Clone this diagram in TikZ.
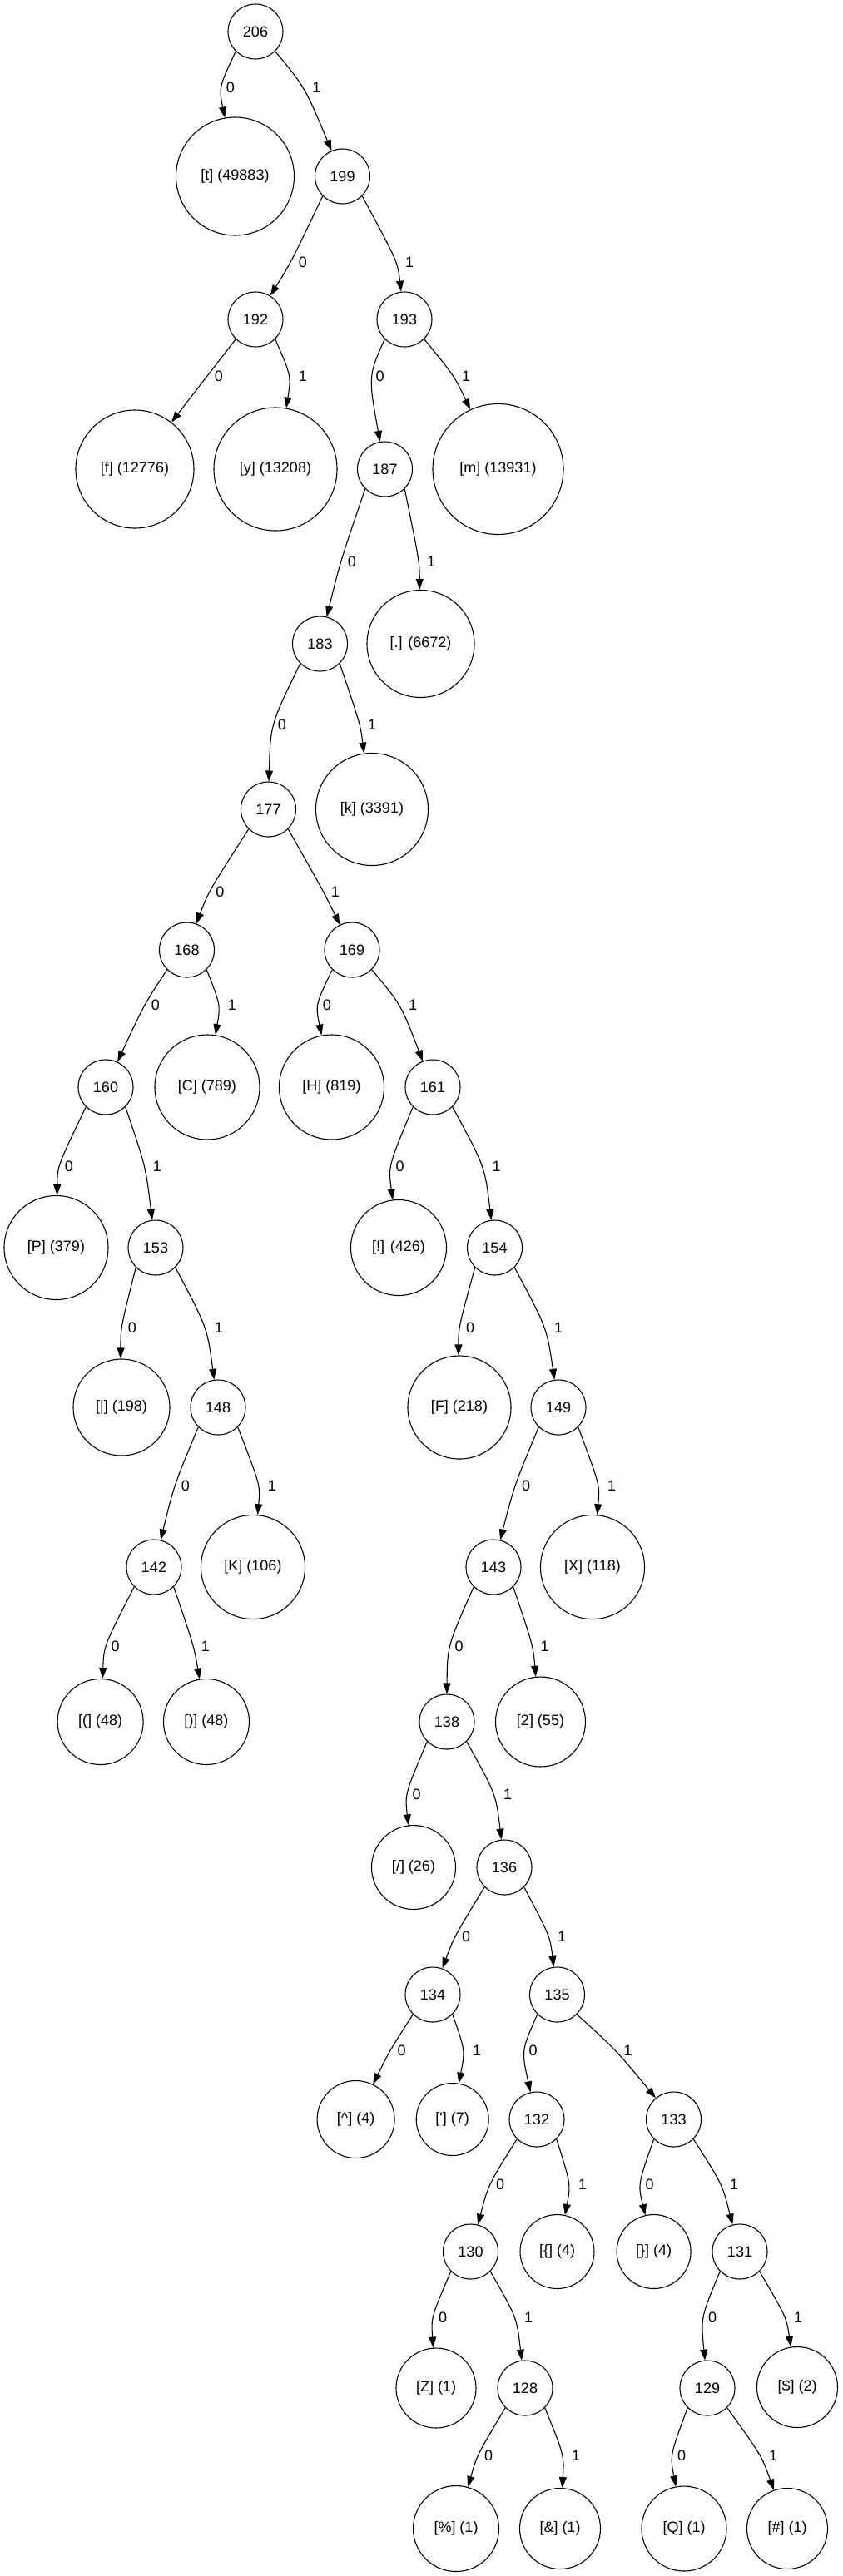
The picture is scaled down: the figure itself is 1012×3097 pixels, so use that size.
\documentclass[tikz,border=0pt]{standalone}
\usepackage{fontspec}
\setmainfont{Liberation Sans}
\usetikzlibrary{arrows.meta,calc}
\tikzset{
  inode/.style={circle,draw,line width=1.1pt,minimum size=66pt,inner sep=0pt,
    font=\fontsize{18}{22}\selectfont},
  leaf/.style={inode,minimum size=#1},
  elabel/.style={inner sep=0pt,font=\fontsize{18}{22}\selectfont},
  edge/.style={line width=1.1pt,-{Triangle[length=13pt,width=9pt]}}
}
\newcommand\hedge[6]{%
  \node[elabel] (l#1#2) at (#3,#4) {#5};
  \coordinate (m#1#2) at (#3-14,#4);
  \draw[edge] let \p1=(m#1#2), \p2=(#2.center),
      \n1={int(round(atan2(\y1-\y2,\x1-\x2)))} in
      (#1.#6) .. controls (m#1#2) .. (#2.\n1);
}
\newcommand\ezero[4]{\hedge{#1}{#2}{#3}{#4}{0}{225}}
\newcommand\eone[4]{\hedge{#1}{#2}{#3}{#4}{1}{315}}
\begin{document}
\begin{tikzpicture}[x=1pt,y=-1pt]
\useasboundingbox (0,0) rectangle (1012,3097);
\fill[white] (0,0) rectangle (1012,3097);
% internal nodes
\node[inode] (n206) at (307,38) {206};
\node[inode] (n199) at (411.5,212) {199};
\node[inode] (n192) at (307,384) {192};
\node[inode] (n193) at (486,384) {193};
\node[inode] (n187) at (462.5,564) {187};
\node[inode] (n183) at (384.5,774) {183};
\node[inode] (n177) at (322.5,973) {177};
\node[inode] (n168) at (224.5,1142) {168};
\node[inode] (n169) at (423,1142) {169};
\node[inode] (n160) at (127,1307) {160};
\node[inode] (n161) at (520,1307) {161};
\node[inode] (n153) at (187,1500) {153};
\node[inode] (n154) at (594.5,1500) {154};
\node[inode] (n148) at (262,1692) {148};
\node[inode] (n149) at (671,1692) {149};
\node[inode] (n142) at (185,1884) {142};
\node[inode] (n143) at (593,1884) {143};
\node[inode] (n138) at (537,2070) {138};
\node[inode] (n136) at (606,2245) {136};
\node[inode] (n134) at (520,2398) {134};
\node[inode] (n135) at (669.5,2398) {135};
\node[inode] (n132) at (645,2548) {132};
\node[inode] (n133) at (809.5,2548) {133};
\node[inode] (n130) at (565.5,2707) {130};
\node[inode] (n131) at (889,2707) {131};
\node[inode] (n128) at (631,2871) {128};
\node[inode] (n129) at (850,2871) {129};
% leaves
\node[leaf=142pt] (t) at (282.5,212) {[t] (49883)};
\node[leaf=142pt] (f) at (162,564) {[f] (12776)};
\node[leaf=148pt] (y) at (331,564) {[y] (13208)};
\node[leaf=157pt] (m) at (598.5,564) {[m] (13931)};
\node[leaf=129pt] (dot) at (505.5,774) {[.] (6672)};
\node[leaf=135pt] (k) at (447,973) {[k] (3391)};
\node[leaf=126pt] (C) at (249,1307) {[C] (789)};
\node[leaf=126pt] (H) at (398.5,1307) {[H] (819)};
\node[leaf=125pt] (P) at (67.5,1500) {[P] (379)};
\node[leaf=115pt] (excl) at (479,1500) {[!] (426)};
\node[leaf=116pt] (bar) at (146,1692) {[|] (198)};
\node[leaf=124pt] (F) at (552,1692) {[F] (218)};
\node[leaf=125pt] (K) at (304,1884) {[K] (106)};
\node[leaf=125pt] (X) at (712,1884) {[X] (118)};
\node[leaf=103pt] (lp) at (120.6,2070) {[(] (48)};
\node[leaf=103pt] (rp) at (248,2070) {[)] (48)};
\node[leaf=108pt] (two) at (649.5,2070) {[2] (55)};
\node[leaf=101pt] (slash) at (497,2245) {[/] (26)};
\node[leaf=93pt] (caret) at (427.6,2548) {[\textasciicircum] (4)};
\node[leaf=87pt] (apos) at (543.7,2548) {[\textquotesingle] (7)};
\node[leaf=89pt] (lbrace) at (669.5,2707) {[\{] (4)};
\node[leaf=89pt] (rbrace) at (785.6,2707) {[\}] (4)};
\node[leaf=96pt] (Z) at (524,2871) {[Z] (1)};
\node[leaf=97pt] (dollar) at (958,2870) {[\$] (2)};
\node[leaf=103pt] (pct) at (548,3040) {[\%] (1)};
\node[leaf=97pt] (amp) at (673,3040) {[\&] (1)};
\node[leaf=102pt] (Q) at (822,3040) {[Q] (1)};
\node[leaf=97pt] (hash) at (946,3040) {[\#] (1)};
% edges
\ezero{n206}{t}{277}{105}
\eone{n206}{n199}{380.5}{105}
\ezero{n199}{n192}{364}{315}
\eone{n199}{n193}{492}{315}
\ezero{n192}{f}{263}{452}
\eone{n192}{y}{364}{452}
\ezero{n193}{n187}{456.5}{452}
\eone{n193}{m}{560}{452}
\ezero{n187}{n183}{423}{675}
\eone{n187}{dot}{518}{675}
\ezero{n183}{n177}{339}{871}
\eone{n183}{k}{447}{871}
\ezero{n177}{n168}{264.5}{1072}
\eone{n177}{n169}{403}{1072}
\ezero{n168}{n160}{187}{1208}
\eone{n168}{C}{279}{1208}
\ezero{n169}{H}{393}{1208}
\eone{n169}{n161}{496}{1208}
\ezero{n160}{P}{83}{1402}
\eone{n160}{n153}{189}{1402}
\ezero{n161}{excl}{480.5}{1402}
\eone{n161}{n154}{596.5}{1402}
\ezero{n153}{bar}{159}{1596}
\eone{n153}{n148}{263}{1596}
\ezero{n154}{F}{565}{1596}
\eone{n154}{n149}{671}{1596}
\ezero{n148}{n142}{223}{1786}
\eone{n148}{K}{327}{1786}
\ezero{n149}{n143}{632}{1786}
\eone{n149}{X}{735}{1786}
\ezero{n142}{lp}{138.7}{1979}
\eone{n142}{rp}{247}{1979}
\ezero{n143}{n138}{551.5}{1979}
\eone{n143}{two}{654.7}{1979}
\ezero{n138}{slash}{500.5}{2157}
\eone{n138}{n136}{610}{2157}
\ezero{n136}{n134}{560}{2328}
\eone{n136}{n135}{675}{2328}
\ezero{n134}{caret}{482.5}{2465}
\eone{n134}{apos}{573}{2465}
\ezero{n135}{n132}{640.5}{2465}
\eone{n135}{n133}{754.6}{2465}
\ezero{n132}{n130}{601}{2626}
\eone{n132}{lbrace}{700}{2626}
\ezero{n133}{rbrace}{780.5}{2626}
\eone{n133}{n131}{882}{2626}
\ezero{n130}{Z}{532}{2786}
\eone{n130}{n128}{635}{2786}
\ezero{n131}{n129}{856}{2786}
\eone{n131}{dollar}{959}{2786}
\ezero{n128}{pct}{587}{2952}
\eone{n128}{amp}{692}{2952}
\ezero{n129}{Q}{819}{2952}
\eone{n129}{hash}{929}{2952}
\end{tikzpicture}
\end{document}
